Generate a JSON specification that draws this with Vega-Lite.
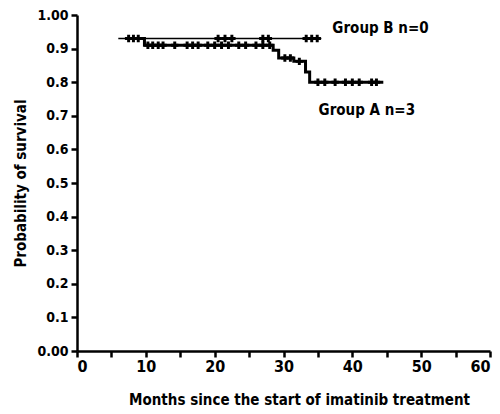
{
  "$schema": "https://vega.github.io/schema/vega-lite/v6.json",
  "width": 413,
  "height": 336,
  "autosize": {"type": "none"},
  "padding": {"left": 77, "top": 15, "right": 10, "bottom": 63},
  "background": "white",
  "config": {
    "view": {"stroke": null},
    "font": "DejaVu Sans Condensed",
    "axis": {
      "domainColor": "black", "domainWidth": 2.5, "tickColor": "black", "tickWidth": 2.5, "tickSize": 6,
      "labelColor": "black", "labelFont": "DejaVu Sans Condensed", "labelFontWeight": "bold", "labelFontSize": 14,
      "titleColor": "black", "titleFont": "DejaVu Sans Condensed", "titleFontWeight": "bold", "titleFontSize": 15,
      "grid": false, "labelOverlap": false
    }
  },
  "datasets": {
    "curves": [
      {"group": "B", "month": 6, "surv": 0.93},
      {"group": "B", "month": 35.5, "surv": 0.93},
      {"group": "A", "month": 7.5, "surv": 0.93},
      {"group": "A", "month": 9.8, "surv": 0.91},
      {"group": "A", "month": 28.5, "surv": 0.895},
      {"group": "A", "month": 29.3, "surv": 0.872},
      {"group": "A", "month": 31.5, "surv": 0.862},
      {"group": "A", "month": 33.2, "surv": 0.83},
      {"group": "A", "month": 33.8, "surv": 0.80},
      {"group": "A", "month": 44.5, "surv": 0.80}
    ],
    "censor": [
      {"group": "B", "month": 7.5, "surv": 0.93},
      {"group": "B", "month": 8.2, "surv": 0.93},
      {"group": "B", "month": 8.9, "surv": 0.93},
      {"group": "B", "month": 20.5, "surv": 0.93},
      {"group": "B", "month": 21.5, "surv": 0.93},
      {"group": "B", "month": 22.5, "surv": 0.93},
      {"group": "B", "month": 27, "surv": 0.93},
      {"group": "B", "month": 27.8, "surv": 0.93},
      {"group": "B", "month": 33.3, "surv": 0.93},
      {"group": "B", "month": 34.1, "surv": 0.93},
      {"group": "B", "month": 34.9, "surv": 0.93},
      {"group": "A", "month": 10.3, "surv": 0.91},
      {"group": "A", "month": 11, "surv": 0.91},
      {"group": "A", "month": 11.8, "surv": 0.91},
      {"group": "A", "month": 12.5, "surv": 0.91},
      {"group": "A", "month": 14.2, "surv": 0.91},
      {"group": "A", "month": 16, "surv": 0.91},
      {"group": "A", "month": 16.8, "surv": 0.91},
      {"group": "A", "month": 17.6, "surv": 0.91},
      {"group": "A", "month": 19, "surv": 0.91},
      {"group": "A", "month": 20, "surv": 0.91},
      {"group": "A", "month": 21, "surv": 0.91},
      {"group": "A", "month": 22, "surv": 0.91},
      {"group": "A", "month": 23.5, "surv": 0.91},
      {"group": "A", "month": 24.5, "surv": 0.91},
      {"group": "A", "month": 26, "surv": 0.91},
      {"group": "A", "month": 27, "surv": 0.91},
      {"group": "A", "month": 28, "surv": 0.91},
      {"group": "A", "month": 30.2, "surv": 0.872},
      {"group": "A", "month": 31, "surv": 0.872},
      {"group": "A", "month": 32.3, "surv": 0.862},
      {"group": "A", "month": 35, "surv": 0.80},
      {"group": "A", "month": 36, "surv": 0.80},
      {"group": "A", "month": 37.5, "surv": 0.80},
      {"group": "A", "month": 39, "surv": 0.80},
      {"group": "A", "month": 40, "surv": 0.80},
      {"group": "A", "month": 41, "surv": 0.80},
      {"group": "A", "month": 42.8, "surv": 0.80},
      {"group": "A", "month": 43.5, "surv": 0.80}
    ],
    "labels": [
      {"label": "Group B n=0", "month": 37.1, "surv": 0.962},
      {"label": "Group A n=3", "month": 35.1, "surv": 0.716}
    ]
  },
  "encoding": {
    "x": {"field": "month", "type": "quantitative", "scale": {"domain": [0, 60], "nice": false},
      "axis": {"values": [0,5,10,15,20,25,30,35,40,45,50,55,60], "labelOverlap": false, "labelExpr": "datum.value % 10 === 0 ? datum.label : ''", "title": "Months since the start of imatinib treatment", "titlePadding": 18, "labelPadding": 1, "labelFontSize": 16, "titleX": 222}},
    "y": {"field": "surv", "type": "quantitative", "scale": {"domain": [0, 1], "nice": false},
      "axis": {"values": [0,0.1,0.2,0.3,0.4,0.5,0.6,0.7,0.8,0.9,1], "labelOverlap": false, "labelExpr": "datum.value === 0 ? '0.00' : datum.value === 1 ? '1.00' : format(datum.value, '.1f')", "title": "Probability of survival", "titlePadding": 8, "labelPadding": 3}}
  },
  "layer": [
    {
      "data": {"name": "curves"},
      "mark": {"type": "line", "interpolate": "step-after", "color": "black"},
      "encoding": {
        "detail": {"field": "group"},
        "strokeWidth": {"field": "group", "type": "nominal", "scale": {"domain": ["A", "B"], "range": [3, 1.3]}, "legend": null}
      }
    },
    {
      "data": {"name": "censor"},
      "mark": {"type": "point", "shape": "cross", "filled": true, "color": "black", "opacity": 1, "size": 55}
    },
    {
      "data": {"name": "labels"},
      "mark": {"type": "text", "align": "left", "baseline": "middle", "fontSize": 15, "fontWeight": "bold", "font": "DejaVu Sans Condensed", "color": "black"},
      "encoding": {
        "text": {"field": "label"}
      }
    }
  ]
}
